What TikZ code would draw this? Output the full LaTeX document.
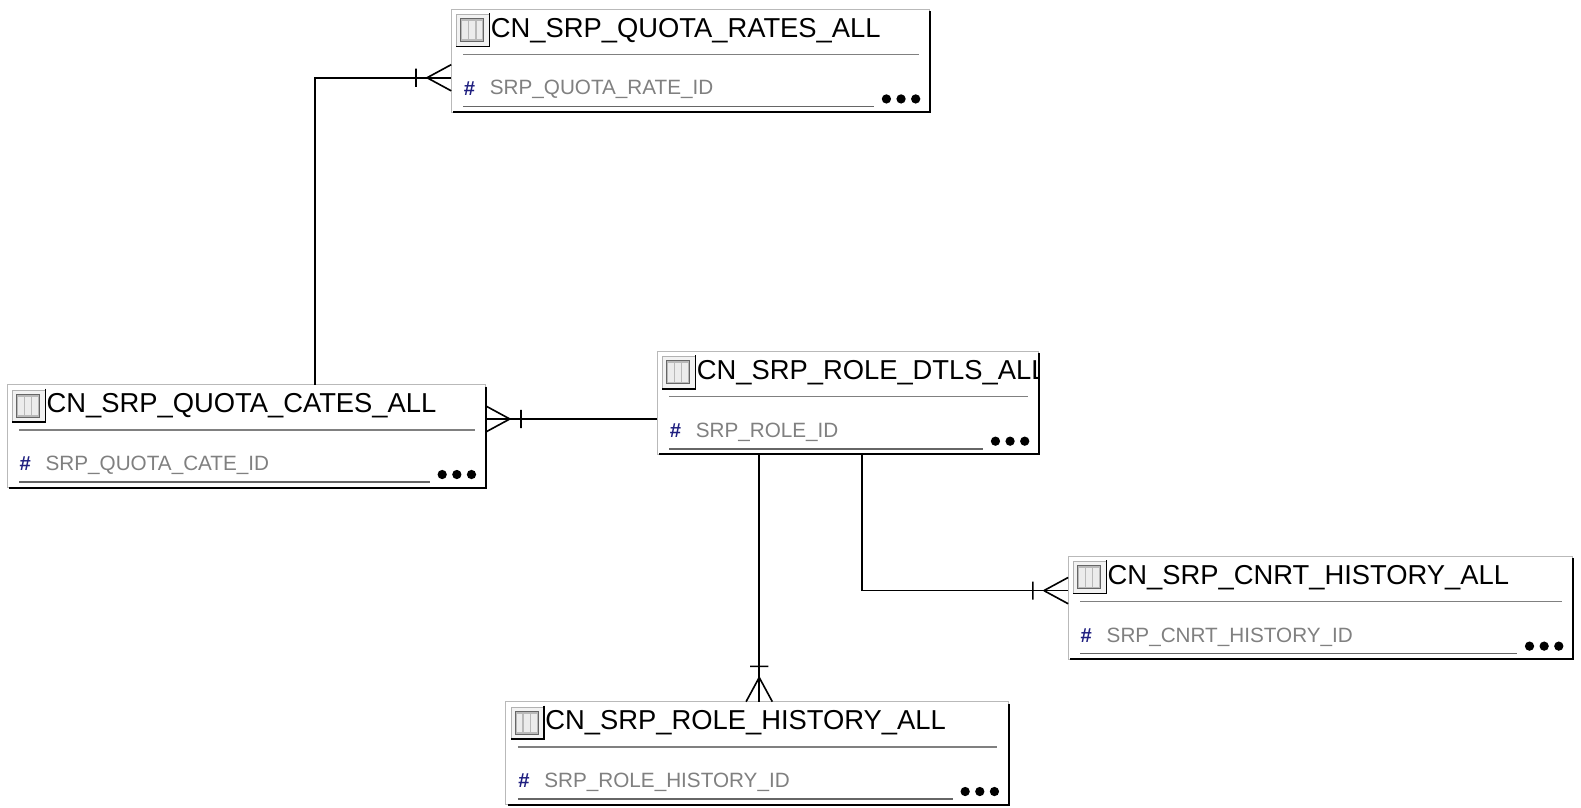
\documentclass[tikz,border=0pt]{standalone}
\usepackage{fontspec}
\setmainfont{Liberation Sans}
\usepackage{tikz}
\usetikzlibrary{positioning}
\definecolor{hashblue}{rgb}{0.12,0.12,0.5}

\begin{document}
\begin{tikzpicture} [x=1pt,y=-1pt,
    tbl/.style={draw=gray!55,line width=1pt,fill=white,inner sep=0pt,outer sep=0pt,minimum height=102pt},
    rel/.style={line width=1.6pt},
    title/.style={anchor=base west,inner sep=0pt,font=\fontsize{27.1}{30}\selectfont},
    colname/.style={anchor=base west,inner sep=0pt,text=gray,font=\fontsize{20.5}{24}\selectfont}]
\useasboundingbox (0,0) rectangle (1566,800.3);

%: \erdtable{<name>}{<x,y>}{<width>}{<title>}{<column>}
\newcommand{\erdtable}[5]{%
\begin{scope} [shift={(#2)}]
    \node[tbl,minimum width=#3pt,anchor=north west] (#1) at (0,0) {};
    \draw[line width=2pt] (#3,2) -- (#3,102) -- (2,102);
    % table icon
    \draw[gray!60,fill=gray!10] (5,5) rectangle (38,37);
    \draw[gray!80!black,fill=gray!55] (9,9) rectangle (32,32);
    \foreach \c in {11,18,25} {\fill[gray!15] (\c,12) rectangle +(5.5,18);}
    \draw[line width=1.6pt] (38,4) -- (38,37) -- (5,37);
    \begin{scope}
        \clip (0,0) rectangle (#3,102);
        \node[title] at (39,28) {#4};
    \end{scope}
    \draw[gray,line width=1.2pt] (12,45) -- (#3-11,45);
    \node[text=hashblue,font=\fontsize{20}{20}\selectfont\bfseries] at (18,78.5) {\#};
    \node[colname] at (38,85) {#5};
    \draw[gray!80!black,line width=1.5pt] (12,96.5) -- (#3-55,96.5);
    \foreach \d in {43,28.5,14} {\fill (#3-\d,89) circle (4.6);}
\end{scope}}

%: \crow{<end point>}{<rotation>}
\newcommand{\crow}[2]{%
\begin{scope} [shift={(#1)},rotate=#2]
    \draw[rel] (-24,0) -- (0,13) (-24,0) -- (0,-13) (-35,-9) -- (-35,9);
\end{scope}}

\erdtable{rates}{447,9}{474}{CN\_SRP\_QUOTA\_RATES\_ALL}{SRP\_QUOTA\_RATE\_ID}
\erdtable{cates}{7,381}{474}{CN\_SRP\_QUOTA\_CATES\_ALL}{SRP\_QUOTA\_CATE\_ID}
\erdtable{dtls}{651,348}{378}{CN\_SRP\_ROLE\_DTLS\_ALL}{SRP\_ROLE\_ID}
\erdtable{cnrt}{1058,551}{500}{CN\_SRP\_CNRT\_HISTORY\_ALL}{SRP\_CNRT\_HISTORY\_ID}
\erdtable{rolehist}{501,695}{498}{CN\_SRP\_ROLE\_HISTORY\_ALL}{SRP\_ROLE\_HISTORY\_ID}

% relations
\draw[rel] ([xshift=305pt]cates.north west) |- ([yshift=-68pt]rates.north west);
\crow{[yshift=-68pt]rates.north west}{0}
\draw[rel] ([yshift=-67pt]dtls.north west) -- ([yshift=-67pt]dtls.north west -| cates.east);
\crow{[yshift=-67pt]dtls.north west -| cates.east}{180}
\draw[rel] ([xshift=101pt]dtls.south west) -- ([xshift=101pt]dtls.south west |- rolehist.north);
\crow{[xshift=101pt]dtls.south west |- rolehist.north}{-90}
\draw[rel] ([xshift=203pt]dtls.south west) |- ([yshift=-34pt]cnrt.north west);
\crow{[yshift=-34pt]cnrt.north west}{0}
\end{tikzpicture}
\end{document}
